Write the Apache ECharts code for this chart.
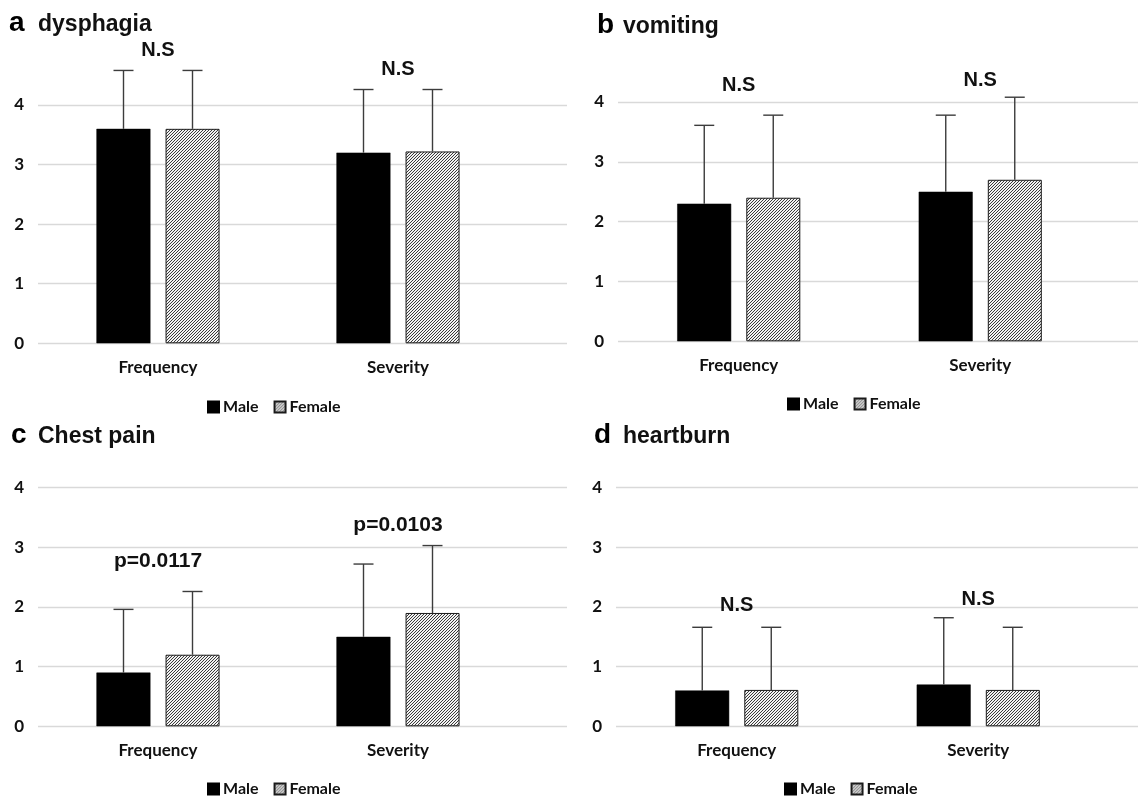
<!DOCTYPE html>
<html>
<head>
<meta charset="utf-8">
<script src="https://cdn.jsdelivr.net/npm/echarts@6/dist/echarts.min.js"></script>
<style>
  html, body { margin: 0; padding: 0; background: #fff; }
  #chart { width: 1138px; height: 796px; }
</style>
</head>
<body>
<div id="chart"></div>
<script>
// Shared axes
const categories = ['Frequency', 'Severity'];
const groups = ['Male', 'Female'];
const yTicks = [0, 1, 2, 3, 4];

// a: dysphagia (mean and SD per category)
const dysphagiaMale = [3.6, 3.2];
const dysphagiaMaleSD = [0.98, 1.06];
const dysphagiaFemale = [3.6, 3.22];
const dysphagiaFemaleSD = [0.98, 1.04];
const dysphagiaNotes = ['N.S', 'N.S'];

// b: vomiting
const vomitingMale = [2.3, 2.5];
const vomitingMaleSD = [1.31, 1.28];
const vomitingFemale = [2.4, 2.7];
const vomitingFemaleSD = [1.38, 1.38];
const vomitingNotes = ['N.S', 'N.S'];

// c: chest pain
const chestPainMale = [0.9, 1.5];
const chestPainMaleSD = [1.06, 1.22];
const chestPainFemale = [1.2, 1.9];
const chestPainFemaleSD = [1.06, 1.13];
const chestPainNotes = ['p=0.0117', 'p=0.0103'];

// d: heartburn
const heartburnMale = [0.6, 0.7];
const heartburnMaleSD = [1.06, 1.12];
const heartburnFemale = [0.61, 0.61];
const heartburnFemaleSD = [1.05, 1.05];
const heartburnNotes = ['N.S', 'N.S'];

const panels = [
  { letter: 'a', title: 'dysphagia', male: dysphagiaMale, maleSD: dysphagiaMaleSD, female: dysphagiaFemale, femaleSD: dysphagiaFemaleSD, notes: dysphagiaNotes },
  { letter: 'b', title: 'vomiting', male: vomitingMale, maleSD: vomitingMaleSD, female: vomitingFemale, femaleSD: vomitingFemaleSD, notes: vomitingNotes },
  { letter: 'c', title: 'Chest pain', male: chestPainMale, maleSD: chestPainMaleSD, female: chestPainFemale, femaleSD: chestPainFemaleSD, notes: chestPainNotes },
  { letter: 'd', title: 'heartburn', male: heartburnMale, maleSD: heartburnMaleSD, female: heartburnFemale, femaleSD: heartburnFemaleSD, notes: heartburnNotes }
];

// Placement of each panel on the page
const layouts = [
  { left: 38,  top: 105,   height: 238.3, catWidth: 480, lineWidth: 529, legendLeft: 207, legendTop: 399, noteAt: [4.92, 4.6],  letterX: 9,   titleX: 38,  baseline: 33 },
  { left: 618, top: 102,   height: 239.3, catWidth: 483, lineWidth: 520, legendLeft: 787, legendTop: 396, noteAt: [4.27, 4.36], letterX: 597, titleX: 623, baseline: 35 },
  { left: 38,  top: 487.7, height: 238.6, catWidth: 480, lineWidth: 529, legendLeft: 207, legendTop: 781, noteAt: [2.76, 3.37], letterX: 11,  titleX: 38,  baseline: 445 },
  { left: 616, top: 487.7, height: 238.6, catWidth: 483, lineWidth: 522, legendLeft: 784, legendTop: 781, noteAt: [2.03, 2.13], letterX: 594, titleX: 623, baseline: 445 }
];

// Fine diagonal hatch tile for the Female bars
function makeHatch() {
  const c = document.createElement('canvas');
  c.width = 3; c.height = 3;
  const ctx = c.getContext('2d');
  ctx.fillStyle = '#f2f2f2';
  ctx.fillRect(0, 0, 3, 3);
  ctx.strokeStyle = '#3a3a3a';
  ctx.lineWidth = 1;
  ctx.beginPath();
  ctx.moveTo(-1, 4); ctx.lineTo(4, -1);
  ctx.moveTo(-1, 1); ctx.lineTo(1, -1);
  ctx.moveTo(2, 4); ctx.lineTo(4, 2);
  ctx.stroke();
  return c;
}
const hatch = { image: makeHatch(), repeat: 'repeat' };

const labelFont = { fontFamily: 'Lato', fontWeight: 'bold', fontSize: 17, color: '#111' };
const BAR_W = 54;
const HALF_STEP = (BAR_W + 15) / 2;

const yMin = yTicks[0];
const yMax = yTicks[yTicks.length - 1];
const yStep = yTicks[1] - yTicks[0];

const grid = [], xAxis = [], yAxis = [], series = [], legend = [], graphic = [];

panels.forEach((p, i) => {
  const L = layouts[i];
  const gLines = 2 * i, gBars = 2 * i + 1;

  // grid holding the value gridlines and tick labels
  grid.push({ left: L.left, top: L.top, width: L.lineWidth, height: L.height, outerBoundsMode: 'none', containLabel: false });
  // grid holding the category bars
  grid.push({ left: L.left, top: L.top, width: L.catWidth, height: L.height, outerBoundsMode: 'none', containLabel: false });

  xAxis.push({ gridIndex: gLines, type: 'value', show: false, min: 0, max: 1 });
  yAxis.push({
    gridIndex: gLines, type: 'value', min: yMin, max: yMax, interval: yStep,
    axisLine: { show: false }, axisTick: { show: false },
    axisLabel: Object.assign({ margin: 14 }, labelFont),
    splitLine: { show: true, lineStyle: { color: '#d9d9d9', width: 1.3 } }
  });

  xAxis.push({
    gridIndex: gBars, type: 'category', data: categories,
    axisLine: { show: false }, axisTick: { show: false },
    axisLabel: Object.assign({ margin: 16 }, labelFont)
  });
  yAxis.push({ gridIndex: gBars, type: 'value', min: yMin, max: yMax, interval: yStep, show: false, splitLine: { show: false } });

  series.push({
    name: groups[0], type: 'bar', xAxisIndex: gBars, yAxisIndex: gBars,
    data: p.male, barWidth: BAR_W, barGap: '28%',
    itemStyle: { color: '#000', borderColor: '#000', borderWidth: 0.5 },
    silent: true
  });
  series.push({
    name: groups[1], type: 'bar', xAxisIndex: gBars, yAxisIndex: gBars,
    data: p.female, barWidth: BAR_W, barGap: '28%',
    itemStyle: { color: hatch, borderColor: '#1a1a1a', borderWidth: 1 },
    silent: true
  });

  // upper error bars (mean + SD)
  const errData = [];
  p.male.forEach((v, k) => errData.push([k, v, p.maleSD[k], -1]));
  p.female.forEach((v, k) => errData.push([k, v, p.femaleSD[k], 1]));
  series.push({
    type: 'custom', xAxisIndex: gBars, yAxisIndex: gBars, silent: true, z: 5,
    data: errData,
    renderItem: (params, api) => {
      const base = api.coord([api.value(0), api.value(1)]);
      const top = api.coord([api.value(0), api.value(1) + api.value(2)]);
      const x = base[0] + api.value(3) * HALF_STEP;
      const st = { stroke: '#3c3c3c', lineWidth: 1.4 };
      return {
        type: 'group',
        children: [
          { type: 'line', shape: { x1: x, y1: base[1], x2: x, y2: top[1] }, style: st },
          { type: 'line', shape: { x1: x - 10, y1: top[1], x2: x + 10, y2: top[1] }, style: st }
        ]
      };
    }
  });

  // significance notes above each category
  series.push({
    type: 'custom', xAxisIndex: gBars, yAxisIndex: gBars, silent: true, z: 6,
    data: categories.map((c, k) => [k, L.noteAt[k]]),
    renderItem: (params, api) => {
      const pt = api.coord([api.value(0), api.value(1)]);
      const txt = p.notes[params.dataIndex];
      const isP = txt.startsWith('p');
      return {
        type: 'text',
        x: pt[0], y: pt[1],
        style: {
          text: txt,
          font: 'bold ' + (isP ? 21 : 20) + 'px "Liberation Sans", Arial, sans-serif',
          fill: '#111', align: 'center', verticalAlign: 'middle'
        }
      };
    }
  });

  legend.push({
    data: groups, left: L.legendLeft, top: L.legendTop, orient: 'horizontal', padding: 0,
    itemWidth: 11, itemHeight: 11, itemGap: 15, icon: 'rect', selectedMode: false,
    textStyle: { fontFamily: 'Lato', fontWeight: 'bold', fontSize: 16, color: '#111', padding: [0, 0, 0, -1] }
  });

  graphic.push({
    type: 'text', x: L.letterX, y: L.baseline - 10,
    style: { text: p.letter, font: 'bold 28px "Liberation Sans", Arial, sans-serif', fill: '#000', verticalAlign: 'middle' }
  });
  graphic.push({
    type: 'text', x: L.titleX, y: L.baseline - 8,
    style: { text: p.title, font: 'bold 23px "Liberation Sans", Arial, sans-serif', fill: '#111', verticalAlign: 'middle' }
  });
});

const chart = echarts.init(document.getElementById('chart'), null, { renderer: 'canvas' });
chart.setOption({
  animation: false,
  backgroundColor: '#fff',
  grid, xAxis, yAxis, series, legend, graphic
});
</script>
</body>
</html>
